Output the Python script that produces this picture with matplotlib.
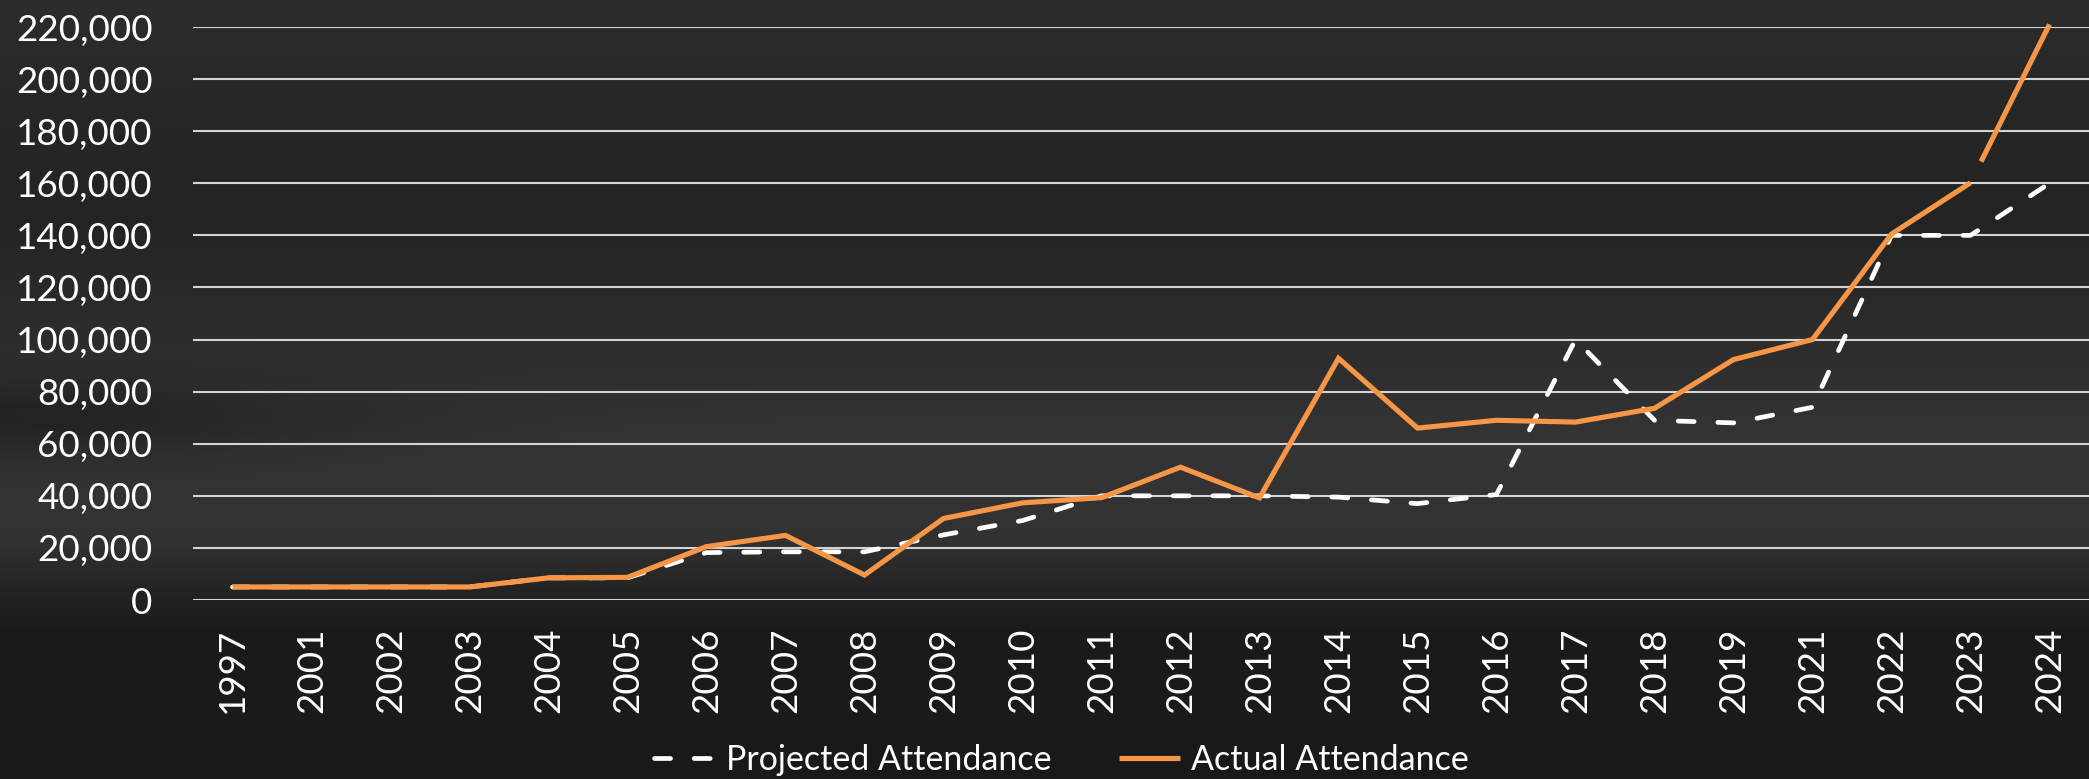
import numpy as np
import matplotlib
matplotlib.use("Agg")
import matplotlib.pyplot as plt
from matplotlib.ticker import FuncFormatter

years = ["1997", "2001", "2002", "2003", "2004", "2005", "2006", "2007", "2008",
         "2009", "2010", "2011", "2012", "2013", "2014", "2015", "2016", "2017",
         "2018", "2019", "2021", "2022", "2023", "2024"]
projected = [5000, 5000, 5000, 5000, 8500, 8500, 18200, 18500, 18500,
             25000, 30500, 40000, 40000, 40000, 39500, 37000, 40500, 100000,
             69000, 68000, 74000, 140000, 140000, 160000]
actual = [5000, 5000, 5000, 5000, 8500, 8700, 20500, 24800, 9600,
          31300, 37300, 39300, 51000, 39200, 92800, 66000, 69000, 68300,
          73600, 92300, 100000, 140500, 160200, 221000]
yticks = list(range(0, 220001, 20000))

W, H = 2089, 779
fig = plt.figure(figsize=(W / 100, H / 100), dpi=100)
plt.rcParams['font.family'] = ['Lato', 'DejaVu Sans']

# background gradient
bg = fig.add_axes([0, 0, 1, 1])
bg.set_axis_off()
yy = np.arange(H)[:, None]
xx = np.arange(W)[None, :]
prof_y = [0, 120, 220, 330, 450, 540, 580, 630, 779]
prof_v = [0.175, 0.150, 0.140, 0.175, 0.205, 0.195, 0.150, 0.105, 0.100]
base = np.interp(np.arange(H), prof_y, prof_v)[:, None] * np.ones((1, W))
dark = 0.06 * np.exp(-((yy - 420) / 40.0) ** 2) * np.exp(-(xx / 350.0) ** 2)
img = np.clip(base - dark, 0, 1)
bg.imshow(np.dstack([img, img, img]), aspect='auto', extent=[0, 1, 0, 1],
          zorder=0)
bg.set_xlim(0, 1)
bg.set_ylim(0, 1)

ax = fig.add_axes([193 / W, 1 - 600 / H, (W - 193) / W, (600 - 27) / H])
ax.patch.set_alpha(0)
x = np.arange(len(years))

ax.set_xlim(-0.5, len(years) - 0.5)
ax.set_ylim(0, 220000)
ax.set_yticks(yticks)
ax.yaxis.set_major_formatter(FuncFormatter(lambda v, p: f"{int(v):,}"))
ax.set_xticks(x)
ax.set_xticklabels(years, rotation=90)
ax.grid(axis='y', color='#d4d4d4', linewidth=1.5, zorder=1)
ax.set_axisbelow(True)
for s in ax.spines.values():
    s.set_visible(False)
ax.tick_params(axis='both', length=0, colors='white', labelsize=26.5)
ax.tick_params(axis='y', pad=29)
ax.tick_params(axis='x', pad=20)

lp, = ax.plot(x, projected, color='white', linewidth=3.4,
              dashes=(3.4, 5.0), dash_capstyle='round',
              solid_capstyle='round', zorder=3, label='Projected Attendance')
la, = ax.plot(x[:-1], actual[:-1], color='#F79646', linewidth=3.7,
              solid_joinstyle='miter', solid_capstyle='butt', zorder=4,
              label='Actual Attendance')
ax.plot(x[-2:], actual[-2:], color='#F79646', linewidth=3.7,
        linestyle=(100, (100, 4.6)), dash_capstyle='butt', zorder=4,
        clip_on=False)

fig.legend(handles=[lp, la], loc='center', bbox_to_anchor=(0.508, 0.024),
           ncol=2, frameon=False, fontsize=24.5, labelcolor='white',
           handlelength=1.8, handletextpad=0.3, columnspacing=2.0)

fig.savefig('out.png', dpi=100)
